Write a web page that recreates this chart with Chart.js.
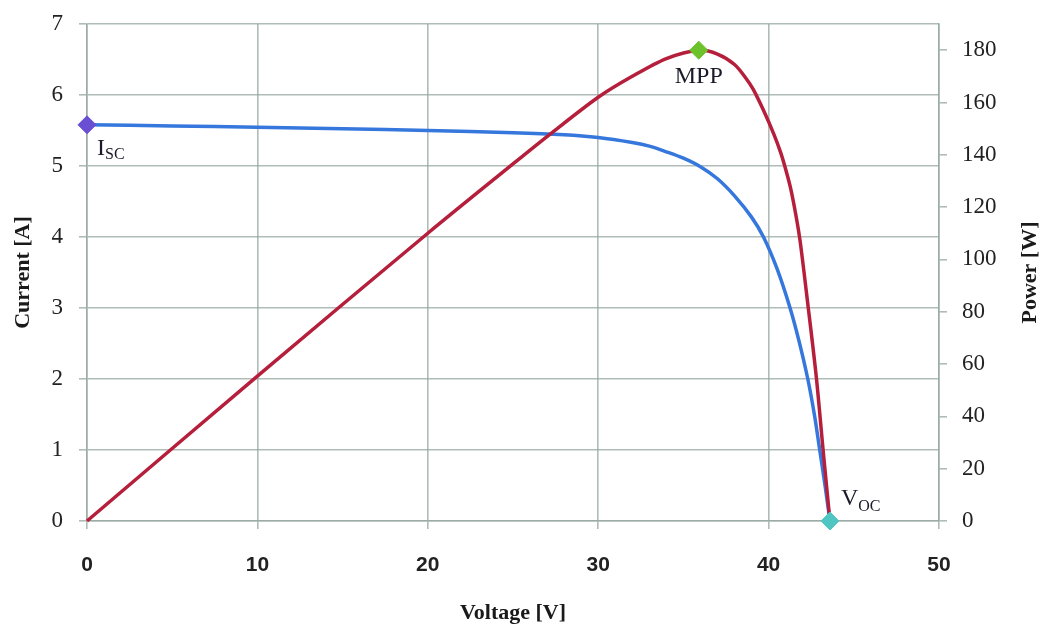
<!DOCTYPE html>
<html>
<head>
<meta charset="utf-8">
<script src="https://cdn.jsdelivr.net/npm/chart.js@4/dist/chart.umd.min.js"></script>
<style>
  body { margin: 0; background: #fff; }
</style>
</head>
<body>
<canvas id="pvChart" width="1047" height="631"></canvas>
<script>
// I-V curve
const voltage = [0, 5, 10, 15, 20, 25, 28, 30, 32, 33, 34, 35, 36, 37, 38, 39, 39.7, 40.5, 41.26, 41.8, 42.3, 42.7, 43.0, 43.3, 43.6];
const current = [5.58, 5.565, 5.545, 5.525, 5.50, 5.47, 5.44, 5.40, 5.33, 5.28, 5.20, 5.11, 4.99, 4.82, 4.58, 4.28, 4.0, 3.55, 3.0, 2.52, 2.0, 1.48, 1.0, 0.52, 0];

// P-V curve
const powerVoltage = [0, 10, 20, 25, 27.2, 30, 32, 34, 35.9, 37, 38, 38.7, 39.1, 39.7, 40.3, 40.7, 41.0, 41.3, 41.6, 41.85, 42.3, 42.8, 43.2, 43.6];
const power = [0, 55.4, 110, 136.5, 148, 162, 170, 176.8, 180, 178.5, 174.5, 169, 165, 157, 148, 141, 134.5, 127, 117, 107, 83, 55, 27, 0];

// special points
const isc = { x: 0, y: 5.58 };
const mpp = { x: 35.9, y: 180 };
const voc = { x: 43.6, y: 0 };

const xTicks = [0, 10, 20, 30, 40, 50];
const currentTicks = [0, 1, 2, 3, 4, 5, 6, 7];
const powerTicks = [0, 20, 40, 60, 80, 100, 120, 140, 160, 180];

const gridColor = 'rgba(150,165,160,0.75)';
const serif = "'Liberation Serif', 'Times New Roman', serif";

const pts = (xs, ys) => xs.map((x, i) => ({ x: x, y: ys[i] }));

// draws Isc / MPP / Voc labels and the right axis title
const labelsPlugin = {
  id: 'pvLabels',
  afterDatasetsDraw(chart) {
    const ctx = chart.ctx;
    const sx = chart.scales.x, sy = chart.scales.y, sp = chart.scales.y1;
    ctx.save();
    ctx.fillStyle = '#1a1a2a';
    ctx.textBaseline = 'alphabetic';

    // I_SC
    let px = sx.getPixelForValue(isc.x), py = sy.getPixelForValue(isc.y);
    ctx.textAlign = 'left';
    ctx.font = '24px ' + serif;
    ctx.fillText('I', px + 10, py + 30);
    let w = ctx.measureText('I').width;
    ctx.font = '16px ' + serif;
    ctx.fillText('SC', px + 10 + w, py + 34);

    // MPP
    px = sx.getPixelForValue(mpp.x); py = sp.getPixelForValue(mpp.y);
    ctx.textAlign = 'center';
    ctx.font = '24px ' + serif;
    ctx.fillText('MPP', px, py + 33);

    // V_OC
    px = sx.getPixelForValue(voc.x); py = sy.getPixelForValue(voc.y);
    ctx.textAlign = 'left';
    ctx.font = '24px ' + serif;
    ctx.fillText('V', px + 11, py - 16);
    w = ctx.measureText('V').width;
    ctx.font = '16px ' + serif;
    ctx.fillText('OC', px + 11 + w, py - 10);
    ctx.restore();
  },
  afterDraw(chart) {
    const ctx = chart.ctx;
    const area = chart.chartArea;
    ctx.save();
    ctx.translate(1030, (area.top + area.bottom) / 2);
    ctx.rotate(-Math.PI / 2);
    ctx.textAlign = 'center';
    ctx.textBaseline = 'middle';
    ctx.fillStyle = '#1a1a1a';
    ctx.font = 'bold 22px ' + serif;
    ctx.fillText('Power [W]', 0, 0);
    ctx.restore();
  }
};

const marker = (label, point, axis, color) => ({
  label: label,
  data: [point],
  yAxisID: axis,
  pointStyle: 'rectRot',
  pointRadius: 9,
  backgroundColor: color,
  borderColor: color,
  showLine: false,
  clip: false,
  order: 0,
});

const data = {
  datasets: [
    marker('Isc', isc, 'y', '#6b4fd3'),
    marker('MPP', mpp, 'y1', '#6cc22a'),
    marker('Voc', voc, 'y', '#4fc6c2'),
    {
      label: 'Power',
      data: pts(powerVoltage, power),
      yAxisID: 'y1',
      borderColor: '#b51f3b',
      borderWidth: 3.5,
      pointRadius: 0,
      tension: 0.3,
      clip: false,
      order: 1,
    },
    {
      label: 'Current',
      data: pts(voltage, current),
      yAxisID: 'y',
      borderColor: '#3577dc',
      borderWidth: 3.5,
      pointRadius: 0,
      tension: 0.3,
      clip: false,
      order: 2,
    },
  ],
};

// fixed axis sizes so the plot area sits where it does in the picture
const fixY = (width) => (s) => { s.width = width; s.paddingTop = 0; s.paddingBottom = 0; };

const config = {
  type: 'line',
  data: data,
  options: {
    responsive: false,
    animation: false,
    layout: { padding: { top: 24, right: 0, left: 0, bottom: 0 } },
    plugins: { legend: { display: false }, tooltip: { enabled: false } },
    scales: {
      x: {
        type: 'linear',
        min: 0, max: 50,
        afterBuildTicks: (s) => { s.ticks = xTicks.map(v => ({ value: v })); },
        afterFit: (s) => { s.height = 110; s.paddingLeft = 0; s.paddingRight = 0; },
        grid: { color: gridColor, lineWidth: 1.6, tickLength: 8 },
        border: { color: gridColor, width: 1.6 },
        ticks: { color: '#222', padding: 24, font: { family: "'Liberation Sans', Arial, sans-serif", size: 21, weight: 'bold' } },
        title: { display: true, text: 'Voltage [V]', color: '#1a1a1a', padding: { top: 4 }, font: { family: serif, size: 22, weight: 'bold' } },
      },
      y: {
        position: 'left',
        min: 0, max: 7,
        afterBuildTicks: (s) => { s.ticks = currentTicks.map(v => ({ value: v })); },
        afterFit: fixY(87),
        grid: { color: gridColor, lineWidth: 1.6, tickLength: 8 },
        border: { color: gridColor, width: 1.6 },
        ticks: { color: '#222', padding: 16, font: { family: serif, size: 23 } },
        title: { display: true, text: 'Current [A]', color: '#1a1a1a', padding: { top: 10 }, font: { family: serif, size: 22, weight: 'bold' } },
      },
      y1: {
        position: 'right',
        min: 0, max: 190,
        afterBuildTicks: (s) => { s.ticks = powerTicks.map(v => ({ value: v })); },
        afterFit: fixY(108),
        grid: { drawOnChartArea: false, color: gridColor, lineWidth: 1.6, tickLength: 8 },
        border: { color: gridColor, width: 1.6 },
        ticks: { color: '#222', padding: 15, font: { family: serif, size: 23 } },
      },
    },
  },
  plugins: [labelsPlugin],
};

new Chart('pvChart', config);
</script>
</body>
</html>
